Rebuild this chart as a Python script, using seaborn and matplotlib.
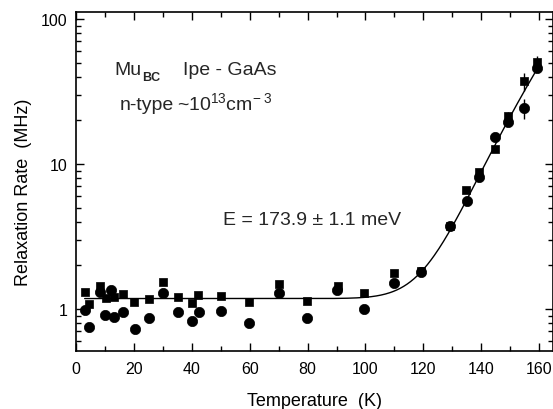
import numpy as np
import pandas as pd
import matplotlib
matplotlib.use("Agg")
import matplotlib.pyplot as plt
import seaborn as sns
from matplotlib.ticker import MultipleLocator, LogLocator, FixedLocator, FixedFormatter, NullFormatter

# ---- data ----
T_square = [3.2, 4.4, 8.4, 10.4, 13.2, 16.3, 20.1, 25.3, 30.2, 35.3, 40.1, 42.2, 50.2, 59.8,
            70.0, 79.7, 90.4, 99.5, 109.8, 119.3, 129.3, 134.8, 139.3, 144.8, 149.4, 154.9, 159.3]
rate_square = [1.30, 1.08, 1.45, 1.19, 1.20, 1.27, 1.11, 1.17, 1.53, 1.20, 1.10, 1.24, 1.22, 1.11,
               1.49, 1.13, 1.43, 1.28, 1.77, 1.82, 3.75, 6.65, 8.85, 12.7, 21.5, 37.2, 50.3]
err_square = [0.05, 0.05, 0.05, 0.05, 0.05, 0.05, 0.05, 0.05, 0.05, 0.05, 0.05, 0.05, 0.05, 0.05,
              0.06, 0.05, 0.06, 0.05, 0.07, 0.07, 0.15, 0.3, 0.4, 0.6, 1.2, 5.5, 5.5]

T_circle = [3.2, 4.6, 8.4, 10.1, 12.1, 13.2, 16.3, 20.3, 25.3, 30.2, 35.3, 40.1, 42.4, 50.2, 59.8,
            70.1, 79.7, 90.2, 99.5, 109.8, 119.3, 129.3, 135.1, 139.3, 144.8, 149.4, 154.9, 159.3]
rate_circle = [0.98, 0.755, 1.30, 0.91, 1.36, 0.885, 0.96, 0.73, 0.87, 1.28, 0.95, 0.83, 0.96, 0.97, 0.80,
               1.28, 0.86, 1.36, 1.00, 1.50, 1.81, 3.72, 5.53, 8.17, 15.4, 19.6, 24.3, 45.9]
err_circle = [0.05, 0.05, 0.05, 0.05, 0.05, 0.05, 0.05, 0.05, 0.05, 0.05, 0.05, 0.05, 0.05, 0.05, 0.05,
              0.05, 0.05, 0.06, 0.05, 0.07, 0.07, 0.15, 0.3, 0.4, 0.7, 1.0, 3.8, 3.0]

# fit parameters (Arrhenius model): rate = A + B*exp(-E/kT)
fit_A = 1.18
fit_B = 1.4e7
fit_E_meV = 173.9
k_B_meV = 8.617e-2
fit_T = np.linspace(3, 160, 400)
fit_rate = fit_A + fit_B * np.exp(-fit_E_meV / (k_B_meV * fit_T))

x_ticks = [0, 20, 40, 60, 80, 100, 120, 140, 160]
y_ticks = [1, 10, 100]
y_tick_labels = ["1", "10", "100"]

df_sq = pd.DataFrame({"T": T_square, "rate": rate_square})
df_ci = pd.DataFrame({"T": T_circle, "rate": rate_circle})
df_fit = pd.DataFrame({"T": fit_T, "rate": fit_rate})

# ---- style ----
sns.set_theme(style="ticks")
plt.rcParams["font.family"] = ["Liberation Sans", "DejaVu Sans"]
plt.rcParams["mathtext.fontset"] = "custom"
plt.rcParams["mathtext.rm"] = "Liberation Sans"
plt.rcParams["mathtext.it"] = "Liberation Sans"

W, H = 553, 410
fig = plt.figure(figsize=(W / 100, H / 100), dpi=100)
ax = fig.add_axes([76 / W, 1 - 352 / H, (552.5 - 76) / W, (352 - 13) / H])

ax.errorbar(T_square, rate_square, yerr=err_square, fmt="none", ecolor="black", elinewidth=1.0, capsize=0, zorder=2)
ax.errorbar(T_circle, rate_circle, yerr=err_circle, fmt="none", ecolor="black", elinewidth=1.0, capsize=0, zorder=2)
sns.lineplot(data=df_fit, x="T", y="rate", ax=ax, color="black", linewidth=1.0, zorder=3)
sns.scatterplot(data=df_sq, x="T", y="rate", ax=ax, marker="s", s=40, color="black", edgecolor="black",
                linewidth=0.5, zorder=4)
sns.scatterplot(data=df_ci, x="T", y="rate", ax=ax, marker="o", s=55, color="black", edgecolor="black",
                linewidth=0.5, zorder=4)

ax.set_yscale("log")
ax.set_xlim(0, 164.6)
ax.set_ylim(0.513, 111.8)

ax.xaxis.set_major_locator(FixedLocator(x_ticks))
ax.xaxis.set_minor_locator(MultipleLocator(10))
ax.yaxis.set_major_locator(FixedLocator(y_ticks))
ax.yaxis.set_major_formatter(FixedFormatter(y_tick_labels))
ax.yaxis.set_minor_locator(LogLocator(base=10, subs=np.arange(2, 10)))
ax.yaxis.set_minor_formatter(NullFormatter())

ax.tick_params(which="both", direction="in", top=True, right=True, colors="black", labelsize=11.5)
ax.tick_params(which="major", length=6, width=1.0)
ax.tick_params(which="minor", length=3.5, width=1.0)
ax.tick_params(axis="x", which="major", pad=7)
ax.tick_params(axis="y", which="major", pad=6)
for sp in ax.spines.values():
    sp.set_linewidth(1.2)
    sp.set_color("black")
    sp.set_visible(True)

ax.set_xlabel("Temperature  (K)", fontsize=13, labelpad=12, color="black")
ax.set_ylabel("Relaxation Rate  (MHz)", fontsize=13, color="black")
ax.yaxis.set_label_coords(-0.092, 0.472)

# annotations
fs = 14
fig.text(114 / W, 1 - 75 / H, "Mu", fontsize=fs, va="baseline", ha="left")
fig.text(142 / W, 1 - 81 / H, "BC", fontsize=9, va="baseline", ha="left", fontweight="bold")
fig.text(183 / W, 1 - 75 / H, "Ipe - GaAs", fontsize=fs, va="baseline", ha="left")
fig.text(120 / W, 1 - 110.5 / H, "n-type", fontsize=fs, va="baseline", ha="left")
fig.text(177 / W, 1 - 110.5 / H, r"~10$^{13}$cm$^{-\;3}$", fontsize=fs, va="baseline", ha="left")
fig.text(223 / W, 1 - 225 / H, "E = 173.9 \u00b1 1.1 meV", fontsize=fs, va="baseline", ha="left")

fig.savefig("out.png", dpi=100)
